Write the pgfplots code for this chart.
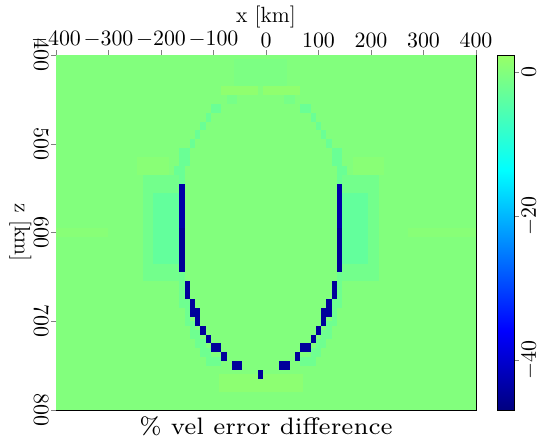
\documentclass[border=0pt]{standalone}
\usepackage{pgfplots}
\pgfplotsset{compat=1.18}
\usepackage{pgfplotstable}

% Velocity-error difference, stored as constant blocks:
% centre x, centre z, width, height (km), value (%)
\pgfplotstableread{
xc zc w h v
0 600 800 400 0
-10 420 100 30 -0.6
-50 440 70 10 1.5
30 440 70 10 1.5
-350 600 100 10 0.6
335 600 130 10 0.6
-215 525 60 20 0.7
195 525 60 20 0.7
-10 770 160 20 1.1
-65 450 20 10 -1.2
45 450 20 10 -1.2
-95 460 20 10 -2.5
-110 470 10 10 -2.5
-120 480 10 10 -2.5
-130 490 10 10 -2.5
-140 500 10 10 -2.5
-155 515 20 20 -2.5
-165 535 20 20 -2.5
75 460 20 10 -2.5
90 470 10 10 -2.5
100 480 10 10 -2.5
110 490 10 10 -2.5
120 500 10 10 -2.5
135 515 20 20 -2.5
145 535 20 20 -2.5
-200 595 70 120 -1.6
-190 595 50 80 -3.2
180 595 70 120 -1.6
170 595 50 80 -3.2
-160 665 10 40 -2
-150 690 10 30 -2
-140 710 10 20 -2
-130 720 10 20 -2
-120 730 10 20 -2
-110 740 10 20 -2
-95 745 20 10 -2
140 665 10 40 -2
130 690 10 30 -2
120 710 10 20 -2
110 720 10 20 -2
100 730 10 20 -2
90 740 10 20 -2
75 745 20 10 -2
-160 570 10 50 -43.5
-160 620 10 50 -45
140 570 10 50 -43.5
140 620 10 50 -45
-150 665 10 20 -44.5
-140 685 10 20 -44.5
-130 695 10 20 -44.5
-120 710 10 10 -44.5
-110 720 10 10 -44.5
-95 730 20 10 -44.5
-80 740 10 10 -44.5
-55 750 20 10 -44.5
-10 760 10 10 -44.5
130 665 10 20 -44.5
120 685 10 20 -44.5
110 695 10 20 -44.5
100 710 10 10 -44.5
90 720 10 10 -44.5
75 730 20 10 -44.5
60 740 10 10 -44.5
35 750 20 10 -44.5
}\blocks

% filled rectangle whose size (in pt) comes from the table
\pgfdeclareplotmark{block}{%
  \pgfpathrectangle{\pgfpoint{-0.5*\bw pt}{-0.5*\bh pt}}{\pgfpoint{\bw pt}{\bh pt}}%
  \pgfusepathqfill}

\newcommand{\ticksize}{\fontsize{10.5}{12}\selectfont}
\newcommand{\labelsize}{\fontsize{11}{13}\selectfont}

\begin{document}
\begin{tikzpicture}
\useasboundingbox (0,0) rectangle (271pt,219pt);
\begin{axis}[
  at={(28pt,14pt)}, anchor=south west,
  scale only axis,
  width=210pt, height=177.5pt,
  xmin=-400, xmax=400, ymin=400, ymax=800,
  y dir=reverse,
  xtick={-400,-300,...,400},
  ytick={400,500,...,800},
  xtick pos=right, xticklabel pos=right,
  ytick pos=left,
  tick align=outside,
  major tick length=2.5pt,
  tick label style={font=\ticksize, inner sep=1.2pt},
  xlabel={x [km]},
  ylabel={z [km]},
  xlabel style={font=\labelsize, inner sep=0pt},
  every axis y label/.style={at={(ticklabel cs:0.5)}, rotate=-90, anchor=north, inner sep=0pt, font=\labelsize},
  yticklabel style={rotate=-90, anchor=north},
  clip marker paths=true,
  point meta min=-46.9, point meta max=2.4,
  colormap={sepjet}{rgb(0pt)=(0,0,0.5); rgb(11pt)=(0,0,1); rgb(33.3pt)=(0,1,1); rgb(49.3pt)=(0.6,1,0.4)},
  colorbar,
  colorbar style={
    width=8.5pt,
    at={(parent axis.north east)},
    anchor=north west,
    xshift=2pt,
    ytick={-40,-20,0},
    ytick pos=right,
    tick align=outside,
    major tick length=2.5pt,
    tick label style={font=\ticksize, inner sep=1.2pt},
    yticklabel style={rotate=90, anchor=north},
  },
  title={\% vel error difference},
  title style={at={(0.5,0)}, anchor=north, inner sep=0pt, yshift=-9pt,
    font=\fontsize{7}{8}\selectfont, scale=1.7},
]
\addplot[scatter, only marks, mark=block, scatter src=explicit,
  scatter/use mapped color={draw=none, fill=mapped color},
  visualization depends on={0.2625*\thisrow{w} \as \bw},
  visualization depends on={0.44375*\thisrow{h} \as \bh},
] table[x=xc, y=zc, meta=v] {\blocks};
\end{axis}
\end{tikzpicture}
\end{document}
